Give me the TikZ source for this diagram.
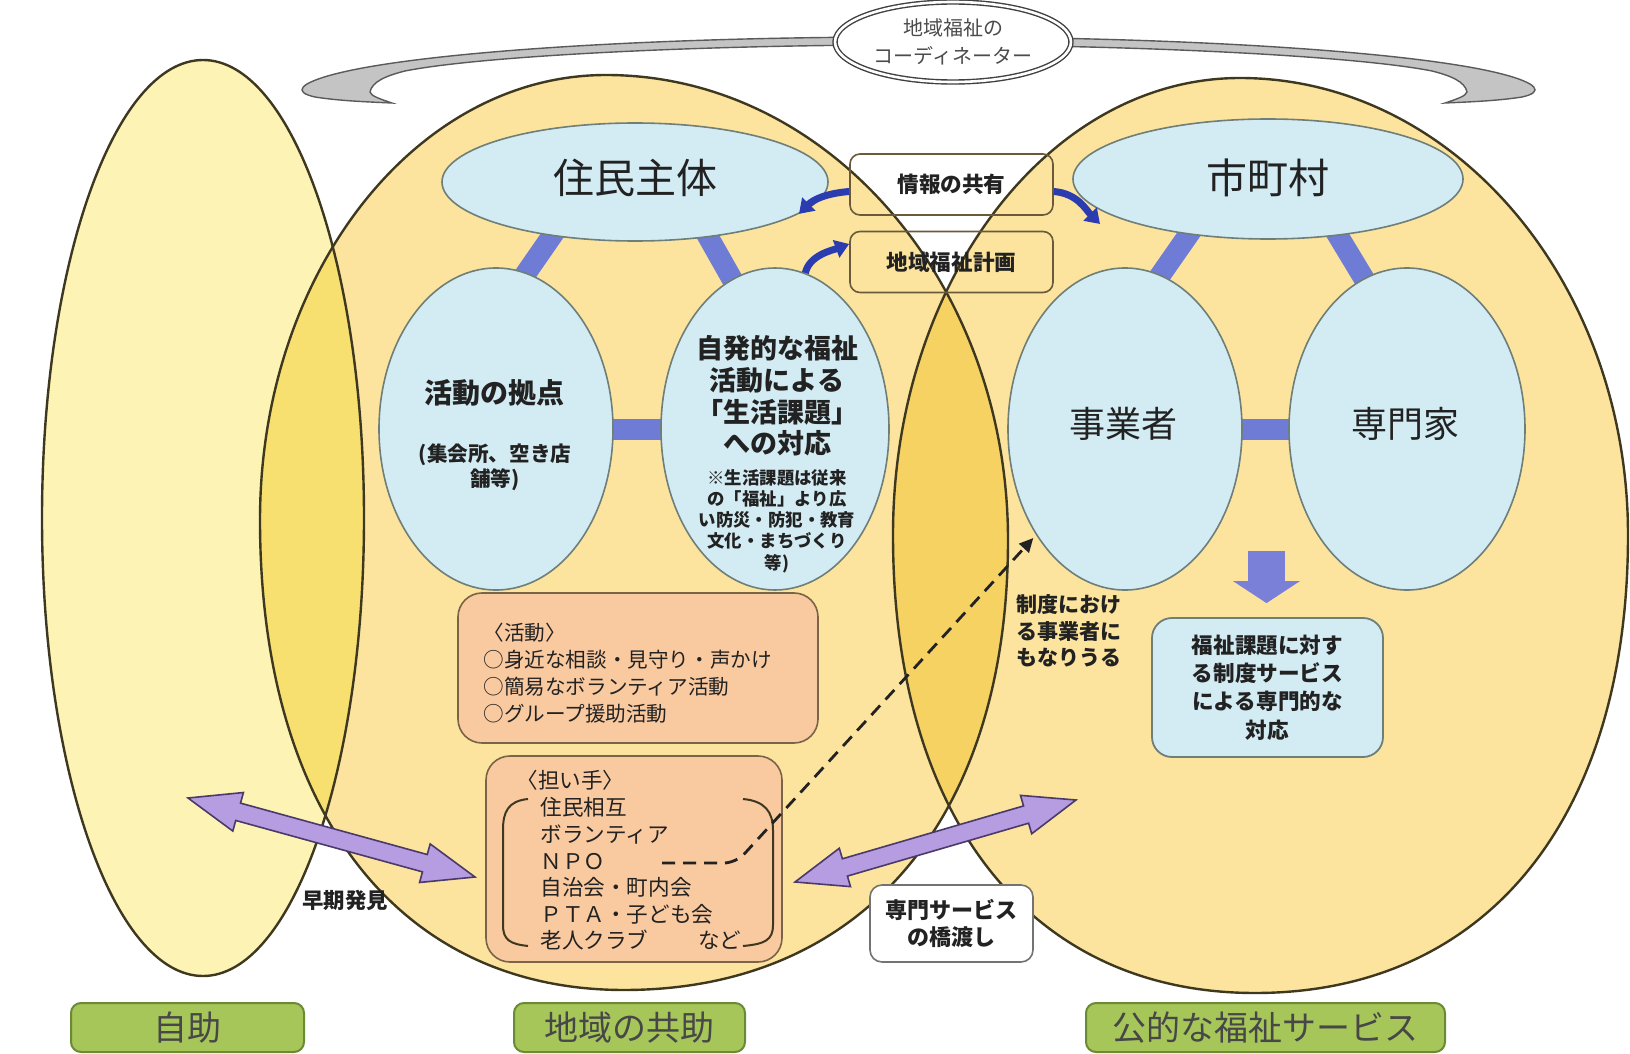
\documentclass[tikz,border=0pt]{standalone}
\usepackage{fontspec}
\setmainfont{Noto Sans CJK JP}
\usetikzlibrary{calc,arrows.meta,shapes.geometric}
\pgfdeclarelayer{bg}
\pgfdeclarelayer{mid}
\pgfsetlayers{bg,mid,main}
\definecolor{cself}{HTML}{FCF3B4}
\definecolor{cmid}{HTML}{FCE49E}
\definecolor{cov1}{HTML}{F8E070}
\definecolor{cov2}{HTML}{F6D263}
\definecolor{cedge}{HTML}{3E3820}
\definecolor{clblue}{HTML}{D3ECF4}
\definecolor{clbline}{HTML}{6E7E78}
\definecolor{cbar}{HTML}{6E7CD6}
\definecolor{cdarkblue}{HTML}{2B3CB0}
\definecolor{cpeach}{HTML}{F9C9A0}
\definecolor{cpeachline}{HTML}{7A6448}
\definecolor{cpurple}{HTML}{B69CE0}
\definecolor{cpurpleline}{HTML}{4A3A6A}
\definecolor{cgreen}{HTML}{A6C65A}
\definecolor{cgreenline}{HTML}{6A8A34}
\definecolor{cband}{HTML}{C4C4C4}
\definecolor{cbandline}{HTML}{5A5A5A}
\definecolor{ctext}{HTML}{222222}
\definecolor{cdown}{HTML}{7A80D8}
\definecolor{cboxline}{HTML}{6B5A3A}
\newcommand\fsz[2]{\fontsize{#1}{#2}\selectfont}
\newcommand\purpledbl[2]{%
  \coordinate (hA) at ($(#1)!26pt!(#2)$);
  \coordinate (hB) at ($(#2)!26pt!(#1)$);
  \draw[purplearr] (#1) -- ($(hA)!10pt!90:(#2)$) -- ($(hA)!4.5pt!90:(#2)$)
    -- ($(hB)!4.5pt!-90:(#1)$) -- ($(hB)!10pt!-90:(#1)$) -- (#2)
    -- ($(hB)!10pt!90:(#1)$) -- ($(hB)!4.5pt!90:(#1)$)
    -- ($(hA)!4.5pt!-90:(#2)$) -- ($(hA)!10pt!-90:(#2)$) -- cycle;}
\begin{document}
\begin{tikzpicture}[x=0.5pt,y=-0.5pt,
  bigline/.style={draw=cedge,line width=1.2pt},
  innerell/.style={ellipse,draw=clbline,fill=clblue,line width=0.8pt,inner sep=0pt},
  barline/.style={draw=cbar,line width=10.5pt,shorten <=-6pt,shorten >=-6pt},
  bluearr/.style={draw=cdarkblue,line width=3.5pt,-{Triangle[width=9pt,length=7pt]}},
  dasharr/.style={draw=ctext,line width=1.4pt,dash pattern=on 6.5pt off 4pt,rounded corners=6pt,-{Triangle[width=6.5pt,length=7pt]}},
  purplearr/.style={fill=cpurple,draw=cpurpleline,line width=0.8pt,line join=miter},
  downarr/.style={draw=cdown,line width=18.5pt,-{Triangle[width=33pt,length=11pt]}},
  toolbox/.style={rectangle,rounded corners=5pt,draw=cboxline,line width=0.8pt,minimum width=101.5pt,minimum height=30.5pt,font=\bfseries\fsz{10.8pt}{13pt},text=ctext},
  peachbox/.style={rectangle,rounded corners=12pt,draw=cpeachline,fill=cpeach,line width=0.8pt},
  greenlab/.style={rectangle,rounded corners=5pt,draw=cgreenline,fill=cgreen,line width=1pt,minimum height=24.5pt,font=\fsz{17pt}{19pt},text=black!72},
  txt/.style={inner sep=0pt,text=ctext}]
\useasboundingbox (0,0) rectangle (1630,1054);

\begin{pgfonlayer}{bg}
\fill[white] (0,0) rectangle (1630,1054);
% shape paths
\path[save path=\selfpath] (203,518) ellipse [x radius=161, y radius=458];
\path[save path=\midpath] (260,520) .. controls (260,274) and (415,75) .. (606,75)
  .. controls (828,75) and (1008,283) .. (1008,540)
  .. controls (1008,819) and (862,990) .. (624,990)
  .. controls (398,990) and (260,811) .. (260,520) -- cycle;
\path[save path=\pubpath] (893,535) .. controls (893,283) and (1048,78) .. (1240,78)
  .. controls (1454,78) and (1628,283) .. (1628,535)
  .. controls (1628,819) and (1486,993) .. (1255,993)
  .. controls (1031,993) and (893,819) .. (893,535) -- cycle;
\fill[cself,use path=\selfpath];
\fill[cmid,use path=\midpath];
\fill[cmid,use path=\pubpath];
\begin{scope}
  \clip[use path=\selfpath];
  \fill[cov1,use path=\midpath];
\end{scope}
\begin{scope}
  \clip[use path=\midpath];
  \fill[cov2,use path=\pubpath];
\end{scope}
\draw[bigline,use path=\selfpath];
\draw[bigline,use path=\midpath];
\draw[bigline,use path=\pubpath];
% grey swoosh bands
\filldraw[fill=cband,draw=cbandline,line width=0.7pt]
  (905,37) .. controls (650,37) and (420,52) .. (335,74)
  .. controls (300,83) and (292,92) .. (315,97)
  .. controls (340,101) and (370,102) .. (392,103)
  .. controls (380,99) and (371,96) .. (370,92)
  .. controls (372,82) and (385,76) .. (405,71)
  .. controls (480,56) and (700,45) .. (905,45) -- cycle;
\begin{scope}[shift={(1837,0)},xscale=-1]
\filldraw[fill=cband,draw=cbandline,line width=0.7pt]
  (905,37) .. controls (650,37) and (420,52) .. (335,74)
  .. controls (300,83) and (292,92) .. (315,97)
  .. controls (340,101) and (370,102) .. (392,103)
  .. controls (380,99) and (371,96) .. (370,92)
  .. controls (372,82) and (385,76) .. (405,71)
  .. controls (480,56) and (700,45) .. (905,45) -- cycle;
\end{scope}
\end{pgfonlayer}

% coordinator
\node[ellipse,draw=black!75,double=white,double distance=1.3pt,line width=0.7pt,fill=white,
  minimum width=118pt,minimum height=40pt,inner sep=0pt,align=center,
  font=\fsz{10pt}{14pt},text=black!70] (coord) at (953,42) {地域福祉の\\コーディネーター};

% inner ellipses
\node[innerell,minimum width=193pt,minimum height=59pt] (jumin) at (635,182) {};
\node[innerell,minimum width=195pt,minimum height=60pt] (shichoson) at (1268,179) {};
\node[innerell,minimum width=117pt,minimum height=161pt] (katsudo) at (496,429) {};
\node[innerell,minimum width=114pt,minimum height=161pt] (jihatsu) at (775,429) {};
\node[innerell,minimum width=117pt,minimum height=161pt] (jigyo) at (1125,429) {};
\node[innerell,minimum width=118pt,minimum height=161pt] (senmon) at (1407,429) {};

\begin{pgfonlayer}{mid}
\draw[barline] (jumin.213) -- (katsudo.79);
\draw[barline] (jumin.323) -- (jihatsu.106);
\draw[barline] (katsudo.east) -- (jihatsu.west);
\draw[barline] (shichoson.215) -- (jigyo.77);
\draw[barline] (shichoson.321) -- (senmon.106);
\draw[barline] (jigyo.east) -- (senmon.west);
\end{pgfonlayer}

% texts inside ellipses
\node[txt,font=\fsz{20.5pt}{24pt}] (tjumin) at (635,178) {住民主体};
\node[txt,font=\fsz{20.5pt}{24pt}] (tshi) at (1268,178) {市町村};
\node[txt,font=\bfseries\fsz{14pt}{16pt}] (tkat1) at (494,393) {活動の拠点};
\node[txt,font=\bfseries\fsz{10.3pt}{12.5pt},align=center] (tkat2) at (495,467) {(集会所、空き店\\舗等)};
\node[txt,font=\bfseries\fsz{13.5pt}{15.8pt},align=center] (tjih1) at (777,396) {自発的な福祉\\活動による\\「生活課題」\\への対応};
\node[txt,font=\bfseries\fsz{8.7pt}{10.6pt},align=center] (tjih2) at (777,521) {※生活課題は従来\\の「福祉」より広\\い防災・防犯・教育\\文化・まちづくり\\等)};
\node[txt,font=\fsz{18pt}{20pt}] (tjig) at (1123,424) {事業者};
\node[txt,font=\fsz{18pt}{20pt}] (tsen) at (1405,424) {専門家};

% centre boxes
\node[toolbox] (joho) at (951.5,184.5) {情報の共有};
\node[toolbox] (keikaku) at (951.5,262) {地域福祉計画};

% blue arrows
\coordinate (atip) at (1100,224);
\draw[bluearr] ($(joho.west)+(0,7)$) .. controls +(-24,2) and +(14,-14) .. (jumin.349);
\draw[bluearr] ($(joho.east)+(0,7)$) .. controls +(24,2) and +(-14,-14) .. (atip);
\draw[bluearr] (jihatsu.79) .. controls +(4,-18) and +(-16,6) .. (keikaku.170);

% activity box
\node[peachbox,minimum width=180pt,minimum height=75pt] (actbox) at (638,668) {};
\node[txt,anchor=west,align=left,font=\fsz{10.3pt}{13.5pt}] (acttxt) at (483,673)
  {〈活動〉\\○身近な相談・見守り・声かけ\\○簡易なボランティア活動\\○グループ援助活動};

% supporters box
\node[peachbox,minimum width=148pt,minimum height=103pt] (ninaibox) at (634,859) {};
\node[txt,anchor=west,font=\fsz{10.8pt}{13pt}] (ninaititle) at (516,780) {〈担い手〉};
\node[txt,anchor=west,align=left,font=\fsz{10.8pt}{13.3pt}] (ninailist) at (540,874)
  {住民相互\\ボランティア\\ＮＰＯ\\自治会・町内会\\ＰＴＡ・子ども会\\老人クラブ\hspace{2.3em}など};
\draw[cedge,line width=1pt] (528,799) .. controls (508,801) and (503,812) .. (503,830)
  -- (503,925) .. controls (503,940) and (510,944) .. (528,946);
\draw[cedge,line width=1pt] (743,799) .. controls (765,801) and (773,812) .. (773,830)
  -- (773,925) .. controls (773,940) and (765,944) .. (743,946);

% dashed arrow from NPO
\coordinate (npo) at (662,863);
\draw[dasharr,shorten >=2pt] (npo) -- (736,863) -- (jigyo.230);

% public service side
\node[rectangle,rounded corners=10pt,draw=clbline,fill=clblue,line width=0.9pt,
  minimum width=115.5pt,minimum height=69.5pt,align=center,
  font=\bfseries\fsz{10.8pt}{14.2pt},text=ctext] (fukushi) at (1267.5,687.5)
  {福祉課題に対す\\る制度サービス\\による専門的な\\対応};
\coordinate (dtop) at (1266.5,551);
\draw[downarr,shorten >=7pt] (dtop) -- (dtop |- fukushi.north);
\node[txt,anchor=west,align=left,font=\bfseries\fsz{10.5pt}{13.3pt}] (seido) at (1016,631)
  {制度におけ\\る事業者に\\もなりうる};

% purple double arrows
\coordinate (pa1) at (188,798);
\coordinate (pb1) at (475,877);
\coordinate (pa2) at (795,882);
\coordinate (pb2) at (1076,800);
\purpledbl{pa1}{pb1}
\purpledbl{pa2}{pb2}

\node[txt,font=\bfseries\fsz{10.7pt}{12pt}] (soki) at (345,900) {早期発見};
\node[rectangle,rounded corners=6pt,draw=black!55,fill=white,line width=0.8pt,
  minimum width=81.5pt,minimum height=38.5pt,align=center,
  font=\bfseries\fsz{11pt}{13.5pt},text=ctext] (hashi) at (951.5,923.5) {専門サービス\\の橋渡し};

% bottom labels
\node[greenlab,minimum width=116.5pt] (lself) at (187.5,1027.5) {自助};
\node[greenlab,minimum width=115.5pt] (lkyo) at (629.5,1027.5) {地域の共助};
\node[greenlab,minimum width=179.5pt] (lpub) at (1265.5,1027.5) {公的な福祉サービス};
\end{tikzpicture}
\end{document}
